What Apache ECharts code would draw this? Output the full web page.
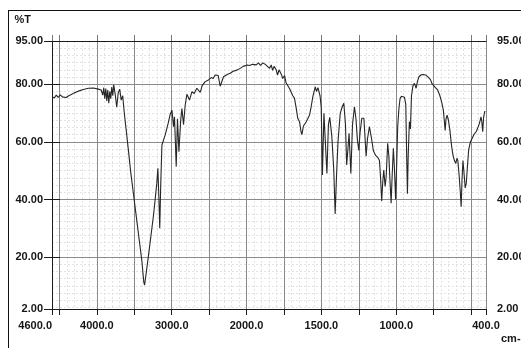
<!DOCTYPE html>
<html>
<head>
<meta charset="utf-8">
<script src="https://cdn.jsdelivr.net/npm/echarts@6/dist/echarts.min.js"></script>
<style>
  html, body { margin: 0; padding: 0; background: #fff; }
  #frame { position: absolute; left: 8px; top: 10px; width: 600px; height: 400px; border-left: 1.5px solid #111; border-top: 1.5px solid #111; }
  #main { position: absolute; left: 0; top: 0; width: 521px; height: 348px; }
</style>
</head>
<body>
<div id="frame"></div>
<div id="main"></div>
<script>
// IR spectrum (cm-1 / %T)
var wavenumbers = [
  4600, 4569, 4543, 4516, 4489, 4462, 4436, 4409, 4382, 4342, 4302, 4249, 4182, 4115, 4048, 3982,
  3942, 3922, 3908, 3895, 3881, 3868, 3855, 3841, 3828, 3815, 3801, 3788, 3775, 3755, 3735, 3715,
  3695, 3675, 3655, 3634, 3608, 3577, 3548, 3521, 3465, 3398, 3374, 3363, 3351, 3310, 3243, 3200,
  3185, 3171, 3160, 3147, 3131, 3087, 3047, 3020, 2997, 2976, 2963, 2940, 2923, 2904, 2880, 2864,
  2842, 2820, 2797, 2762, 2730, 2700, 2664, 2619, 2593, 2553, 2509, 2473, 2446, 2419, 2396, 2379,
  2352, 2330, 2308, 2259, 2219, 2179, 2129, 2085, 2045, 1995,
  1980, 1960, 1935, 1920, 1907, 1891, 1873, 1860, 1846, 1835, 1826, 1816, 1802, 1793, 1783, 1768,
  1758, 1746, 1736, 1724, 1713, 1702, 1691, 1680, 1668, 1658, 1646, 1636, 1630, 1620, 1601, 1579,
  1569, 1557, 1541, 1533, 1523, 1509, 1501, 1493, 1483, 1473, 1463, 1453, 1444, 1430, 1417, 1408,
  1399, 1389, 1374, 1362, 1350, 1339, 1331, 1322, 1315, 1303, 1292, 1279, 1269, 1259, 1250, 1242,
  1230, 1216, 1201, 1192, 1179, 1166, 1153, 1139, 1122, 1112, 1105, 1097, 1090, 1083, 1074, 1067,
  1057, 1049, 1041, 1034, 1028, 1019, 1012, 1004, 997, 990, 982, 974, 965, 955, 945, 936,
  930, 925, 920, 912, 905, 898, 888, 878, 867, 858, 848, 833, 818, 800, 785, 771,
  761, 751, 738, 723, 708, 695, 685, 678, 673, 667, 660, 651, 641, 631, 621, 611,
  602, 594, 588, 579, 571, 566, 560, 554, 548, 539, 532, 524, 516, 504, 493, 481,
  466, 454, 444, 433, 428, 422, 416, 409, 404
];
var transmittance = [
  75.7, 75.2, 76.2, 75.4, 76.3, 75.6, 76.1, 75.4, 75.9, 76.4, 77.0, 77.6, 78.2, 78.6, 78.7, 78.3,
  78.0, 76.2, 78.8, 75.0, 78.5, 74.2, 78.0, 73.4, 77.5, 75.0, 79.0, 76.0, 79.8, 76.5, 72.0, 77.0,
  78.3, 74.5, 76.0, 70.0, 64.0, 56.6, 49.5, 43.9, 32.3, 18.4, 11.5, 10.3, 12.5, 20.7, 34.6, 45.5,
  50.8, 40.0, 30.0, 45.0, 58.9, 62.4, 66.5, 69.6, 71.0, 65.3, 68.7, 51.4, 68.0, 56.6, 67.5, 71.6,
  66.0, 72.8, 76.5, 74.5, 77.4, 76.8, 78.6, 77.2, 79.5, 80.9, 81.5, 82.3, 82.0, 83.2, 83.8, 83.0,
  79.3, 78.8, 82.6, 83.4, 83.8, 84.5, 84.9, 85.5, 86.2, 86.7,
  86.5, 86.9, 86.7, 87.4, 86.5, 87.4, 86.8, 87.0, 85.5, 86.7, 84.8, 86.2, 85.0, 83.2, 85.0, 83.5,
  82.0, 83.0, 80.5, 80.5, 78.5, 78.0, 76.0, 75.2, 71.6, 68.2, 67.0, 63.5, 62.5, 65.5, 67.0, 69.3,
  72.0, 75.7, 79.1, 77.5, 78.8, 76.0, 72.0, 48.5, 69.9, 70.0, 49.0, 66.0, 68.5, 61.8, 50.0, 35.0,
  48.0, 60.0, 69.9, 72.0, 73.4, 66.0, 52.0, 58.0, 63.0, 49.0, 66.0, 72.2, 68.0, 60.6, 57.0, 63.0,
  68.2, 68.2, 55.0, 61.0, 65.3, 61.5, 57.0, 55.4, 54.5, 53.5, 48.0, 39.5, 46.0, 50.2, 44.5, 48.0,
  59.5, 55.0, 46.0, 38.7, 47.0, 57.8, 51.0, 40.0, 52.0, 65.3, 71.5, 75.1, 75.8, 76.0, 75.5, 73.0,
  55.0, 42.0, 55.0, 67.0, 64.5, 76.0, 79.5, 80.3, 78.6, 81.0, 82.6, 83.3, 83.4, 83.1, 82.4, 81.6,
  80.2, 79.6, 78.8, 78.0, 76.0, 73.5, 71.0, 67.0, 64.0, 68.0, 69.3, 67.5, 64.0, 59.0, 55.5, 53.5,
  52.5, 54.3, 53.5, 48.0, 42.0, 37.5, 47.0, 53.5, 50.0, 44.0, 45.5, 51.5, 57.2, 60.0, 61.2, 62.5,
  63.5, 65.0, 66.4, 68.7, 67.0, 63.5, 68.5, 70.5, 70.5
];
var xLabelValues = [4600, 4000, 3000, 2000, 1500, 1000, 400];
var xGridValues = [4600, 4500, 4000, 3500, 3000, 2500, 2000, 1750, 1500, 1250, 1000, 750, 500, 400];
var yLabelValues = [2, 20, 40, 60, 80, 95];

// chart paper: scale doubles below 2000 cm-1
function toAxis(w) { return w >= 2000 ? 4600 - w : 2600 + 2 * (2000 - w); }
function fromAxis(u) { return u <= 2600 ? 4600 - u : 2000 - (u - 2600) / 2; }

var yMinor = [];
for (var v = 2.5; v < 95; v += 2.5) yMinor.push(v);

var points = wavenumbers.map(function (w, i) { return [toAxis(w), transmittance[i]]; });

var font = { color: '#151515', fontSize: 11, fontWeight: 'bold', fontFamily: 'Liberation Sans, Arial, sans-serif' };
var dark = { color: '#1a1a1a', width: 1 };

var myChart = echarts.init(document.getElementById('main'));
myChart.setOption({
    animation: false,
    backgroundColor: 'transparent',
    grid: { left: 52, right: 35, top: 41, bottom: 39, outerBoundsMode: 'none' },
    xAxis: [
        {
            type: 'value', position: 'bottom', min: 0, max: 5800, z: 1,
            name: 'cm-1', nameLocation: 'end', nameGap: 15,
            nameTextStyle: Object.assign({ verticalAlign: 'top', padding: [24, 0, 0, 0] }, font),
            axisLine: { lineStyle: dark },
            axisTick: { customValues: xGridValues.map(toAxis), length: 6, lineStyle: dark },
            axisLabel: Object.assign({
                customValues: xLabelValues.map(toAxis), margin: 11, alignMinLabel: 'right',
                formatter: function (u) { return fromAxis(u).toFixed(1); }
            }, font),
            splitLine: { show: true, lineStyle: { color: '#8a8a8a', width: 1 } }
        },
        {
            type: 'value', position: 'top', min: 0, max: 5800, z: 1,
            axisLine: { lineStyle: dark },
            axisTick: { customValues: xGridValues.map(toAxis), length: 6, lineStyle: { color: '#777' } },
            axisLabel: { show: false },
            splitLine: { show: false }
        },
        {
            type: 'value', position: 'bottom', min: 0, max: 5800, interval: 100, z: 0,
            axisLine: { show: false }, axisTick: { show: false }, axisLabel: { show: false },
            splitLine: { show: true, lineStyle: { color: '#e2e2e2', width: 1, type: [2, 2] } }
        }
    ],
    yAxis: [
        {
            type: 'value', position: 'left', min: 2, max: 95, z: 1,
            name: '%T', nameLocation: 'end', nameGap: 16,
            nameTextStyle: Object.assign({ align: 'right', verticalAlign: 'bottom', padding: [0, 21, 0, 0] }, font),
            axisLine: { lineStyle: dark },
            axisTick: { customValues: yLabelValues, length: 8, lineStyle: dark },
            axisLabel: Object.assign({ customValues: yLabelValues, margin: 9,
                formatter: function (v) { return v.toFixed(2); } }, font),
            splitLine: { show: true, lineStyle: { color: '#8a8a8a', width: 1 } }
        },
        {
            type: 'value', position: 'right', min: 2, max: 95, z: 1,
            axisLine: { lineStyle: dark },
            axisTick: { customValues: yLabelValues, length: 8, lineStyle: dark },
            axisLabel: Object.assign({ customValues: yLabelValues, margin: 11,
                formatter: function (v) { return v.toFixed(2); } }, font),
            splitLine: { show: false }
        },
        {
            type: 'value', position: 'left', min: 2, max: 95, z: 0,
            axisLine: { show: false },
            axisTick: { customValues: yMinor, length: 0, lineStyle: { color: 'transparent' } },
            axisLabel: { show: false },
            splitLine: { show: true, lineStyle: { color: '#e2e2e2', width: 1, type: [2, 2] } }
        }
    ],
    series: [
        {
            type: 'line',
            xAxisIndex: 0,
            yAxisIndex: 0,
            showSymbol: false,
            z: 3,
            lineStyle: { color: '#262626', width: 1.1 },
            data: points
        }
    ]
});
</script>
</body>
</html>
